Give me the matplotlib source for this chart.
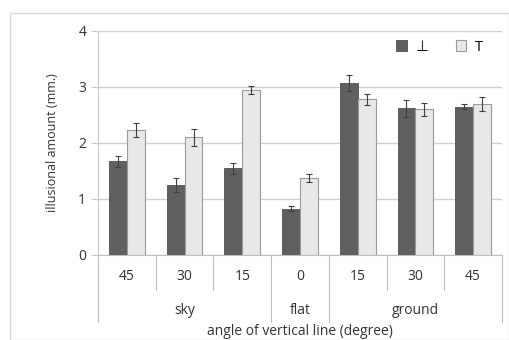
import matplotlib.pyplot as plt
import numpy as np
from matplotlib.patches import Rectangle

angles = ["45", "30", "15", "0", "15", "30", "45"]
groups = ["sky", "flat", "ground"]
group_sizes = [3, 1, 3]
perp = [1.67, 1.25, 1.55, 0.83, 3.07, 2.62, 2.65]
perp_err = [0.10, 0.12, 0.10, 0.05, 0.15, 0.15, 0.05]
tee = [2.23, 2.10, 2.95, 1.38, 2.78, 2.60, 2.70]
tee_err = [0.13, 0.15, 0.07, 0.07, 0.10, 0.12, 0.12]

plt.rcParams['font.family'] = ['Open Sans', 'DejaVu Sans']

fig = plt.figure(figsize=(5.09, 3.40), dpi=100)
fig.patches.append(Rectangle((10 / 509, 0), 1 - 10 / 509, 1 - 13 / 340,
                             transform=fig.transFigure, fill=False,
                             edgecolor='#d9d9d9', linewidth=1))
ax = fig.add_axes([98 / 509, 1 - 255 / 340, 404 / 509, 224 / 340])

x = np.arange(len(angles))
w = 0.31
ax.bar(x - w / 2, perp, w, yerr=perp_err, color='#606060', edgecolor='#505050',
       linewidth=0.6, error_kw=dict(ecolor='#404040', elinewidth=0.8, capsize=2, capthick=0.8),
       label='⊥', zorder=3)
ax.bar(x + w / 2, tee, w, yerr=tee_err, color='#e8e8e8', edgecolor='#9a9a9a',
       linewidth=0.8, error_kw=dict(ecolor='#404040', elinewidth=0.8, capsize=2, capthick=0.8),
       label='T', zorder=3)

ax.set_xlim(-0.5, len(angles) - 0.5)
ax.set_ylim(0, 4)
ax.set_yticks([0, 1, 2, 3, 4])
ax.grid(axis='y', color='#d0d0d0', linewidth=1, zorder=0)
for s in ['top', 'right']:
    ax.spines[s].set_visible(False)
ax.spines['left'].set_color('#c8c8c8')
ax.spines['bottom'].set_color('#bfbfbf')
ax.tick_params(axis='y', colors='#c8c8c8', labelcolor='#333333', labelsize=10, length=5)
ax.tick_params(axis='x', length=0, labelsize=10, labelcolor='#333333', pad=10)
ax.set_xticks(x)
ax.set_xticklabels(angles)
ax.set_ylabel('illusional amount (mm.)', fontsize=9, color='#333333', labelpad=14)

# multilevel category axis separators
trans = ax.get_xaxis_transform()
bounds = np.cumsum([0] + group_sizes) - 0.5
for i in range(len(angles) + 1):
    xb = i - 0.5
    long = xb in bounds
    ax.plot([xb, xb], [0, -0.3 if long else -0.155], transform=trans,
            color='#bfbfbf', linewidth=0.8, clip_on=False)
for g, a, b in zip(groups, bounds[:-1], bounds[1:]):
    ax.text((a + b) / 2, -0.25, g, transform=trans, ha='center', va='center',
            fontsize=10, color='#333333')
ax.text(0.5, -0.34, 'angle of vertical line (degree)', transform=ax.transAxes,
        ha='center', va='center', fontsize=10, color='#333333')

ax.legend(loc='upper right', bbox_to_anchor=(0.985, 1.02), ncol=2, frameon=False,
          fontsize=10.5, handlelength=0.7, handleheight=0.7, columnspacing=1.9,
          handletextpad=0.6)

fig.savefig('out.png', dpi=100)
